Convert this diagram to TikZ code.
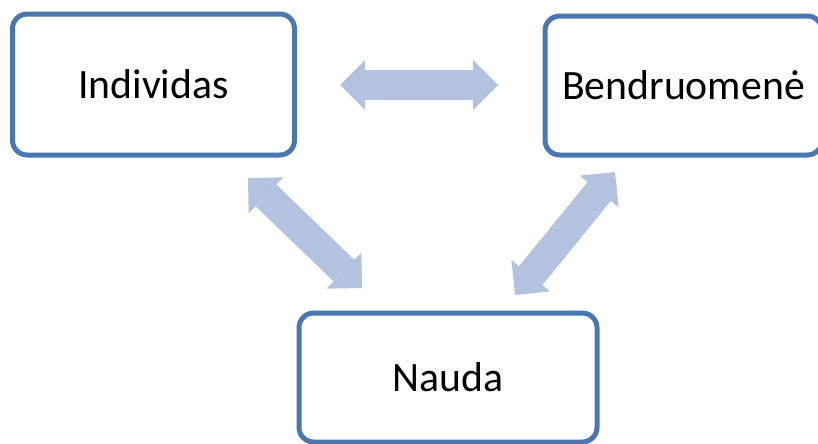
\documentclass[tikz,border=0pt]{standalone}
\usepackage{fontspec}
\setmainfont{Carlito}
\usetikzlibrary{arrows.meta}
\definecolor{boxline}{RGB}{74,119,175}
\definecolor{arrowfill}{RGB}{179,195,223}
\tikzset{
	concept/.style={draw=boxline, line width=3.75pt, rounded corners=11pt, fill=white, inner sep=0pt, font=\fontsize{31.3}{36}\selectfont},
	link/.style={arrowfill, line width=22.5pt, {Triangle[length=18.75pt, width=37.5pt, line width=0pt]}-{Triangle[length=18.75pt, width=37.5pt, line width=0pt]}}
}
\begin{document}
\begin{tikzpicture}[x=0.75pt, y=-0.75pt]
		\useasboundingbox (0,0) rectangle (818,443);
		
		\node [concept, minimum width=211.5pt, minimum height=105.75pt] (ind) at (153.5,84.5) {Individas};
		\node [concept, minimum width=207.75pt, minimum height=104.25pt] (ben) at (683.5,85.5) {Bendruomenė};
		\node [concept, minimum width=223.5pt, minimum height=96.75pt] (nau) at (448,377.5) {Nauda};
		
		\coordinate (indR) at (340,85);
		\coordinate (benL) at (498,85);
		\coordinate (indD) at (248,178);
		\coordinate (nauL) at (362,288);
		\coordinate (benD) at (615,172);
		\coordinate (nauR) at (515,295);
		
		\draw [link] (indR) -- (benL);
		\draw [link] (indD) -- (nauL);
		\draw [link] (benD) -- (nauR);
	\end{tikzpicture}
\end{document}
